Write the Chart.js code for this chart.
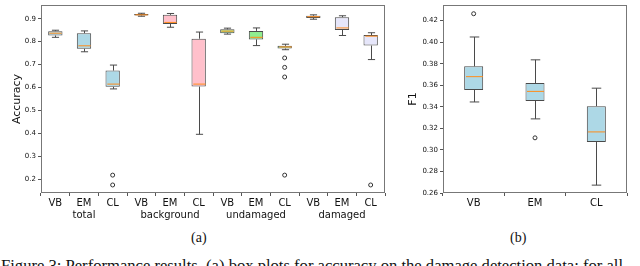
<!DOCTYPE html>
<html>
<head>
<meta charset="utf-8">
<script src="https://cdn.jsdelivr.net/npm/chart.js@4.4.0/dist/chart.umd.min.js"></script>
<style>
  body { margin: 0; background: #fff; width: 640px; height: 266px; overflow: hidden; position: relative; }
  #wrapA { position: absolute; left: 0; top: 0; width: 390px; height: 226px; }
  #wrapB { position: absolute; left: 395px; top: 0; width: 245px; height: 226px; }
  .sub { position: absolute; font-family: "Liberation Serif", serif; font-size: 14px; line-height: 14px; color: #111; }
  #caption { position: absolute; left: 1px; top: 257px; white-space: nowrap; font-family: "Liberation Serif", serif; font-size: 16.6px; line-height: 17px; color: #111; }
</style>
</head>
<body>
<div id="wrapA"><canvas id="accChart"></canvas></div>
<div id="wrapB"><canvas id="f1Chart"></canvas></div>
<div class="sub" style="left:191px; top:231px;">(a)</div>
<div class="sub" style="left:510px; top:231px;">(b)</div>
<div id="caption">Figure 3: Performance results. (a) box plots for accuracy on the damage detection data; for all</div>

<script>
// (a) accuracy per group and model
const groups = ["total", "background", "undamaged", "damaged"];
const models = ["VB", "EM", "CL"];
const groupColors = ["#add8e6", "#ffc0cb", "#90ee90", "#e6e6fa"];

const accLow  = [0.819, 0.756, 0.594, 0.911, 0.863, 0.396, 0.833, 0.783, 0.765, 0.898, 0.827, 0.722];
const accQ1   = [0.827, 0.769, 0.603, 0.914, 0.877, 0.604, 0.837, 0.810, 0.770, 0.903, 0.851, 0.783];
const accMed  = [0.837, 0.782, 0.615, 0.917, 0.884, 0.615, 0.846, 0.819, 0.777, 0.909, 0.860, 0.824];
const accQ3   = [0.846, 0.837, 0.674, 0.921, 0.917, 0.813, 0.854, 0.847, 0.782, 0.913, 0.907, 0.829];
const accHigh = [0.850, 0.847, 0.698, 0.924, 0.923, 0.842, 0.859, 0.860, 0.789, 0.917, 0.913, 0.839];
const accOutliers = [[], [], [0.218, 0.175], [], [], [], [], [], [0.729, 0.688, 0.646, 0.218], [], [], [0.175]];
const accTicks = [0.2, 0.3, 0.4, 0.5, 0.6, 0.7, 0.8, 0.9];

// (b) F1 per model
const f1Low  = [0.3445, 0.3288, 0.2673];
const f1Q1   = [0.3557, 0.3455, 0.3073];
const f1Med  = [0.3680, 0.3543, 0.3167];
const f1Q3   = [0.3776, 0.3621, 0.3406];
const f1High = [0.4048, 0.3836, 0.3573];
const f1Outliers = [[0.4264], [0.3112], []];
const f1Ticks = [0.26, 0.28, 0.30, 0.32, 0.34, 0.36, 0.38, 0.40, 0.42];

const EDGE = "#4a4a4a";
const MEDIAN = "#ff8c1a";
const TICKFONT = "DejaVu Sans";

// whiskers, caps, medians and frame drawn through the scales
const boxPlugin = {
  id: "boxExtras",
  afterDatasetsDraw(chart, args, opts) {
    const { ctx, chartArea } = chart;
    const y = chart.scales.y;
    const meta = chart.getDatasetMeta(0);
    ctx.save();
    ctx.lineWidth = 1;
    meta.data.forEach((bar, i) => {
      const x = Math.round(bar.x) + 0.5;
      const half = bar.width / 2;
      const pLow = y.getPixelForValue(opts.low[i]);
      const pQ1 = y.getPixelForValue(opts.q1[i]);
      const pQ3 = y.getPixelForValue(opts.q3[i]);
      const pHigh = y.getPixelForValue(opts.high[i]);
      const pMed = y.getPixelForValue(opts.med[i]);
      ctx.strokeStyle = EDGE;
      ctx.beginPath();
      ctx.moveTo(x, pQ3); ctx.lineTo(x, pHigh);
      ctx.moveTo(x, pQ1); ctx.lineTo(x, pLow);
      ctx.moveTo(x - half / 2, pHigh); ctx.lineTo(x + half / 2, pHigh);
      ctx.moveTo(x - half / 2, pLow); ctx.lineTo(x + half / 2, pLow);
      ctx.stroke();
      ctx.strokeStyle = MEDIAN;
      ctx.beginPath();
      ctx.moveTo(x - half + 1, pMed); ctx.lineTo(x + half - 1, pMed);
      ctx.stroke();
    });
    ctx.strokeStyle = "#777";
    ctx.strokeRect(chartArea.left + 0.5, chartArea.top + 0.5,
      chartArea.right - chartArea.left - 1, chartArea.bottom - chartArea.top - 1);
    ctx.restore();
  }
};

function outlierSets(keys, outliers) {
  const pts = [];
  outliers.forEach((list, i) => list.forEach(v => pts.push({ x: keys[i], y: v })));
  return {
    type: "scatter",
    data: pts,
    pointStyle: "circle",
    pointRadius: 2,
    pointBorderWidth: 1,
    pointBackgroundColor: "#fff",
    pointBorderColor: "#333"
  };
}

function makeChart(id, cfg) {
  const keys = cfg.labels.map((l, i) => i + ":" + l);
  return new Chart(document.getElementById(id), {
    type: "bar",
    data: {
      labels: keys,
      datasets: [{
        data: cfg.q1.map((v, i) => [v, cfg.q3[i]]),
        backgroundColor: cfg.colors,
        borderColor: EDGE,
        borderWidth: 1,
        borderSkipped: false,
        barPercentage: cfg.barPct,
        categoryPercentage: 1
      }, outlierSets(keys, cfg.outliers)]
    },
    options: {
      responsive: true,
      maintainAspectRatio: false,
      animation: false,
      events: [],
      layout: { padding: { left: 0, right: cfg.padRight, top: 1, bottom: 0 } },
      plugins: {
        legend: { display: false },
        tooltip: { enabled: false },
        boxExtras: { low: cfg.low, q1: cfg.q1, med: cfg.med, q3: cfg.q3, high: cfg.high }
      },
      scales: {
        x: {
          offset: true,
          border: { display: false },
          grid: { display: true, drawOnChartArea: false, drawTicks: true, tickLength: 3, color: "#555" },
          ticks: {
            padding: 1,
            maxRotation: 0,
            autoSkip: false,
            color: "#111",
            font: { family: TICKFONT, size: 10 },
            callback: (v, i) => cfg.tickText(i)
          },
          afterFit: s => { s.height = 33; s.paddingLeft = 0; s.paddingRight = 0; }
        },
        y: {
          min: cfg.min,
          max: cfg.max,
          border: { display: false },
          grid: { display: true, drawOnChartArea: false, drawTicks: true, tickLength: 3, color: "#555" },
          ticks: {
            padding: 2,
            color: "#111",
            font: { family: TICKFONT, size: 7 },
            callback: v => v.toFixed(cfg.digits)
          },
          afterBuildTicks: s => { s.ticks = cfg.ticks.map(v => ({ value: v })); },
          title: {
            display: true,
            text: cfg.title,
            color: "#111",
            font: { family: TICKFONT, size: 11 },
            padding: { top: cfg.titlePad, bottom: 0 }
          },
          afterFit: s => { s.width = cfg.axisWidth; s.paddingTop = 0; s.paddingBottom = 0; }
        }
      }
    },
    plugins: [boxPlugin]
  });
}

const accLabels = [];
const accColors = [];
groups.forEach((g, gi) => models.forEach(m => { accLabels.push(m); accColors.push(groupColors[gi]); }));

makeChart("accChart", {
  labels: accLabels,
  colors: accColors,
  low: accLow, q1: accQ1, med: accMed, q3: accQ3, high: accHigh,
  outliers: accOutliers,
  ticks: accTicks,
  min: 0.14, max: 0.96, digits: 1,
  title: "Accuracy", titlePad: 11,
  axisWidth: 41, padRight: 5, barPct: 0.5,
  tickText: i => (i % 3 === 1 ? [accLabels[i], groups[Math.floor(i / 3)]] : accLabels[i])
});

makeChart("f1Chart", {
  labels: models,
  colors: models.map(() => "#add8e6"),
  low: f1Low, q1: f1Q1, med: f1Med, q3: f1Q3, high: f1High,
  outliers: f1Outliers,
  ticks: f1Ticks,
  min: 0.26, max: 0.4345, digits: 2,
  title: "F1", titlePad: 12,
  axisWidth: 48, padRight: 13, barPct: 0.31,
  tickText: i => models[i]
});
</script>
</body>
</html>
